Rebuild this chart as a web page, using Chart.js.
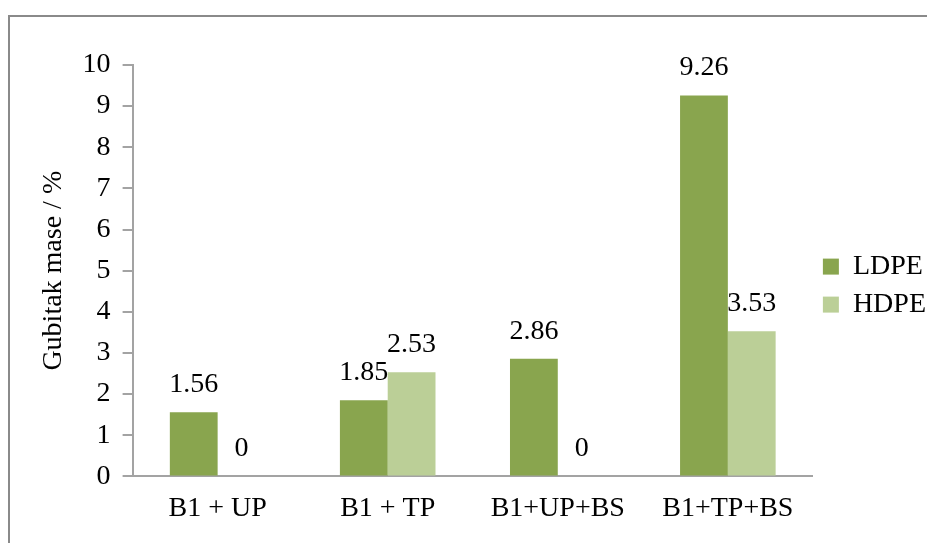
<!DOCTYPE html>
<html>
<head>
<meta charset="utf-8">
<script src="https://cdn.jsdelivr.net/npm/chart.js@4/dist/chart.umd.min.js"></script>
<style>
  html, body { margin: 0; padding: 0; background: #fff; }
  #frame {
    position: absolute; left: 8px; top: 15px; width: 940px; height: 540px;
    border-left: 2px solid #8a8a8a; border-top: 2px solid #8a8a8a;
  }
  #chart { position: absolute; left: 0; top: 0; }
</style>
</head>
<body>
<div id="frame"></div>
<canvas id="chart" width="927" height="543"></canvas>
<script>
// chart data
const categories = ['B1 + UP', 'B1 + TP', 'B1+UP+BS', 'B1+TP+BS'];
const ldpeValues = [1.56, 1.85, 2.86, 9.26];
const hdpeValues = [0, 2.53, 0, 3.53];
const seriesNames = ['LDPE', 'HDPE'];
const yTicks = [0, 1, 2, 3, 4, 5, 6, 7, 8, 9, 10];

const serif = "'Liberation Serif', 'Times New Roman', serif";
const axisGray = '#a3a3a3';

// draws the value above each bar
const valueLabels = {
    id: 'valueLabels',
    afterDatasetsDraw(chart) {
        const ctx = chart.ctx;
        ctx.save();
        ctx.font = '28px ' + serif;
        ctx.fillStyle = '#000';
        ctx.textAlign = 'center';
        ctx.textBaseline = 'alphabetic';
        chart.data.datasets.forEach((ds, i) => {
            chart.getDatasetMeta(i).data.forEach((bar, j) => {
                ctx.fillText(String(ds.data[j]), bar.x, bar.y - 20);
            });
        });
        ctx.restore();
    }
};

new Chart(document.getElementById('chart').getContext('2d'), {
    type: 'bar',
    data: {
        labels: categories,
        datasets: [
            { label: seriesNames[0], data: ldpeValues, backgroundColor: '#89a54e' },
            { label: seriesNames[1], data: hdpeValues, backgroundColor: '#bbcf97' }
        ]
    },
    options: {
        responsive: false,
        animation: false,
        datasets: { bar: { categoryPercentage: 0.562, barPercentage: 1 } },
        layout: { padding: { left: 37, top: 65, right: -9, bottom: 3 } },
        plugins: {
            tooltip: { enabled: false },
            legend: {
                position: 'right',
                align: 'start',
                // empty title only used to push the entries down
                title: { display: true, text: ' ', padding: { top: 144, bottom: 0 }, font: { family: serif, size: 28 } },
                labels: {
                    boxWidth: 16,
                    boxHeight: 16,
                    padding: 10,
                    color: '#000',
                    font: { family: serif, size: 28 }
                }
            }
        },
        scales: {
            x: {
                grid: { display: false, drawTicks: false },
                border: { color: axisGray, width: 2 },
                ticks: { color: '#000', padding: 15, maxRotation: 0, font: { family: serif, size: 28 } }
            },
            y: {
                min: 0,
                max: 10,
                afterBuildTicks: axis => { axis.ticks = yTicks.map(v => ({ value: v })); },
                grid: { drawOnChartArea: false, drawTicks: true, tickLength: 10, color: axisGray, lineWidth: 2 },
                border: { color: axisGray, width: 2 },
                ticks: { color: '#000', padding: 12, font: { family: serif, size: 28 } },
                title: {
                    display: true,
                    text: 'Gubitak mase / %',
                    color: '#000',
                    padding: { top: 0, bottom: 0 },
                    font: { family: serif, size: 28 }
                }
            }
        }
    },
    plugins: [valueLabels]
});
</script>
</body>
</html>
